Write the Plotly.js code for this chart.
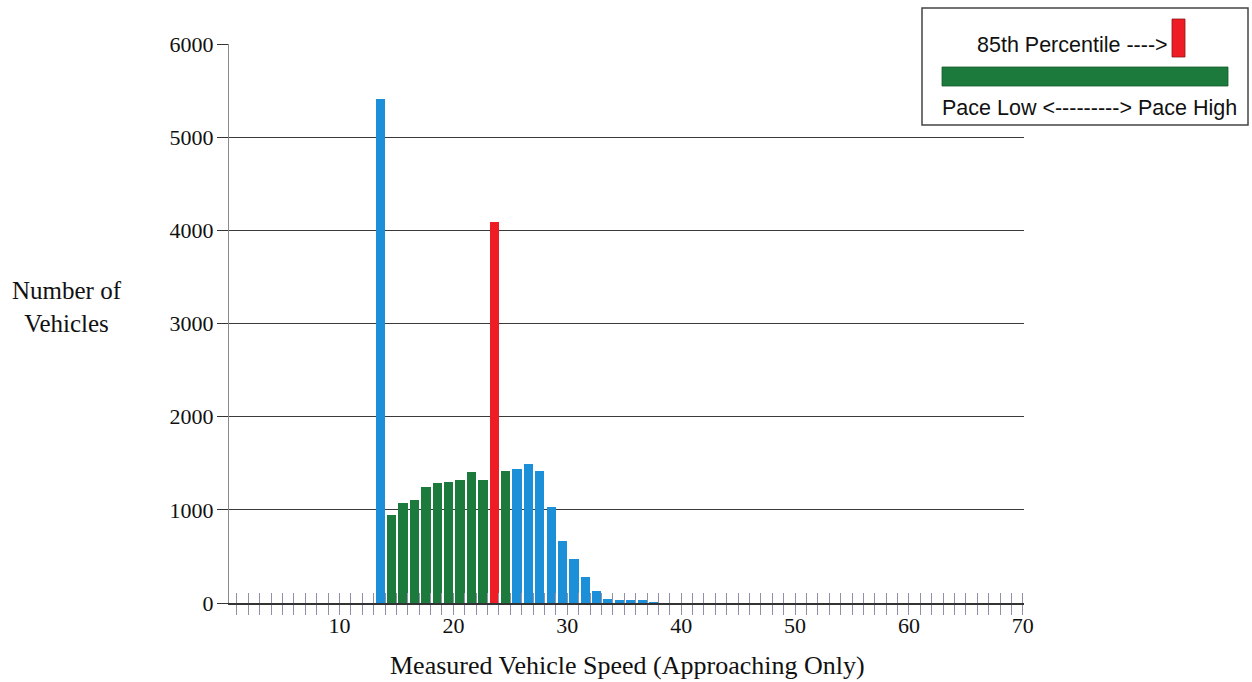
<!DOCTYPE html>
<html>
<head>
<meta charset="utf-8">
<script src="https://cdn.plot.ly/plotly-3.0.1.min.js"></script>
<style>html,body{margin:0;padding:0;background:#fff;}#chart{width:1252px;height:682px;}</style>
</head>
<body>
<div id="chart"></div>
<script>
// Data
const speeds = [13,14,15,16,17,18,19,20,21,22,23,24,25,26,27,28,29,30,31,32,33,34,35,36,37,38,39,40];
const counts = [5415,940,1070,1105,1240,1285,1295,1320,1410,1325,4085,1420,1435,1490,1420,1035,665,470,278,125,48,32,30,28,12,4,2,1];
// group of each bin: 'pace' (green), 'p85' (red), 'other' (blue)
const groups = ['other','pace','pace','pace','pace','pace','pace','pace','pace','pace','p85','pace','other','other','other','other','other','other','other','other','other','other','other','other','other','other','other','other'];
const groupColors = {other:'#1c8fd9', pace:'#1b7a3c', p85:'#ee1c25'};
const yTicks = [0,1000,2000,3000,4000,5000,6000];
const xTickVals = Array.from({length:70},(_,i)=>i+1);
const xTickText = xTickVals.map(v => v % 10 === 0 ? String(v) : '');
const xTitle = 'Measured Vehicle Speed (Approaching Only)';
const yTitle = 'Number of<br>Vehicles';
const legendLine1 = '85th Percentile ---->';
const legendLine2 = 'Pace Low <---------> Pace High';

const W = 1252, H = 682;
const L = 229, R = 228, T = 44, B = 79;
const pw = W - L - R, ph = H - T - B;
const px = x => (x - L) / pw;
const py = y => (H - B - y) / ph;

const trace = {
  type: 'bar',
  x: speeds,
  y: counts,
  offset: 0.18,
  width: 0.82,
  marker: {color: groups.map(g => groupColors[g]), line: {width: 0}},
  hoverinfo: 'x+y',
  showlegend: false
};

const serif = 'Liberation Serif, Times New Roman, serif';
const sans = 'Liberation Sans, Arial, sans-serif';

const layout = {
  width: W, height: H,
  margin: {l: L, r: R, t: T, b: B, pad: 0},
  paper_bgcolor: '#ffffff',
  plot_bgcolor: '#ffffff',
  showlegend: false,
  bargap: 0,
  xaxis: {
    range: [0.3, 70.1],
    tickmode: 'array',
    tickvals: xTickVals,
    ticktext: xTickText,
    ticks: 'outside',
    ticklen: 10,
    tickwidth: 1,
    tickcolor: '#9090a8',
    ticklabelstandoff: -8,
    showgrid: false,
    zeroline: false,
    showline: true,
    linecolor: '#333333',
    linewidth: 1.5,
    tickfont: {family: serif, size: 22, color: '#111'},
    fixedrange: true
  },
  xaxis2: {
    overlaying: 'x',
    matches: 'x',
    range: [0.3, 70.1],
    tickmode: 'array',
    tickvals: xTickVals,
    ticktext: xTickVals.map(()=>''),
    ticks: 'inside',
    ticklen: 10,
    tickwidth: 1,
    tickcolor: '#9090a8',
    showgrid: false,
    zeroline: false,
    showline: false,
    side: 'bottom',
    anchor: 'y',
    layer: 'above traces'
  },
  yaxis: {
    range: [0, 6000],
    tickmode: 'array',
    tickvals: yTicks,
    ticktext: yTicks.map(String),
    ticks: 'outside',
    ticklen: 11,
    tickwidth: 1,
    tickcolor: '#333',
    ticklabelstandoff: -1,
    showgrid: true,
    gridcolor: '#3a3a3a',
    gridwidth: 1,
    zeroline: false,
    showline: true,
    linecolor: '#8a8a8a',
    linewidth: 1,
    tickfont: {family: serif, size: 22, color: '#111'},
    fixedrange: true
  },
  shapes: [
    {type:'rect', xref:'paper', yref:'paper', x0:px(922), x1:px(1248), y0:py(125), y1:py(8),
     fillcolor:'#ffffff', line:{color:'#444', width:1.5}},
    {type:'rect', xref:'paper', yref:'paper', x0:px(1172), x1:px(1185), y0:py(57), y1:py(19),
     fillcolor:'#ee1c25', line:{color:'#8a1a1a', width:0.8}},
    {type:'rect', xref:'paper', yref:'paper', x0:px(942), x1:px(1228), y0:py(86), y1:py(67),
     fillcolor:'#1b7a3c', line:{color:'#145a2c', width:0.8}}
  ],
  annotations: [
    {xref:'paper', yref:'paper', x:px(627), y:py(665), text:xTitle, showarrow:false,
     xanchor:'center', yanchor:'middle', font:{family:serif, size:26, color:'#111'}},
    {xref:'paper', yref:'paper', x:px(67), y:py(307), text:yTitle, showarrow:false,
     xanchor:'center', yanchor:'middle', align:'center', font:{family:serif, size:25, color:'#111'}},
    {xref:'paper', yref:'paper', x:px(1170), y:py(45), text:legendLine1, showarrow:false,
     xanchor:'right', yanchor:'middle', font:{family:sans, size:21.5, color:'#111'}},
    {xref:'paper', yref:'paper', x:px(940), y:py(108), text:legendLine2, showarrow:false,
     xanchor:'left', yanchor:'middle', font:{family:sans, size:21.5, color:'#111'}}
  ]
};

const overlayTicks = {type:'scatter', x:[1], y:[0], xaxis:'x2', yaxis:'y', mode:'markers',
  marker:{opacity:0}, hoverinfo:'skip', showlegend:false};

Plotly.newPlot('chart', [trace, overlayTicks], layout, {displayModeBar:false, staticPlot:true});
</script>
</body>
</html>
